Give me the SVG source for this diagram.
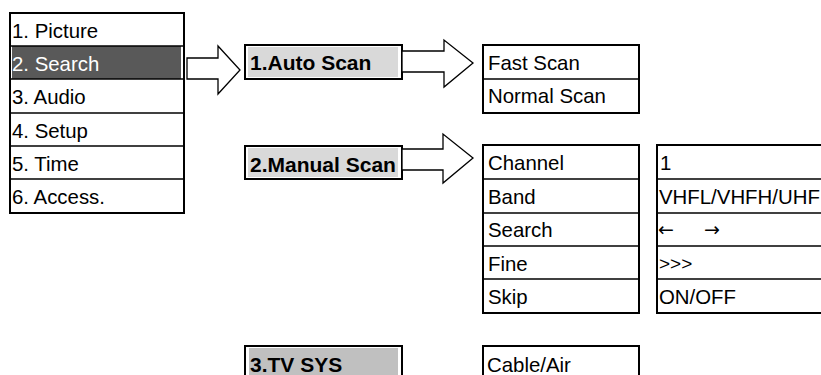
<svg xmlns="http://www.w3.org/2000/svg" width="821" height="375" viewBox="0 0 821 375">
<style>
.t{font-family:"Liberation Sans",Arial,sans-serif;font-size:20.4px;fill:#000}
.b{font-family:"Liberation Sans",Arial,sans-serif;font-size:21px;font-weight:bold;fill:#000}
.ar{font-family:"DejaVu Sans",sans-serif;font-size:19px;fill:#000}
.box{fill:#fff;stroke:#000;stroke-width:2}
.sep{stroke:#000;stroke-width:1.6}
.arr{fill:#fff;stroke:#000;stroke-width:1.3;stroke-linejoin:miter}
</style>
<rect width="821" height="375" fill="#fff"/>
<g id="main-menu">
<rect class="box" x="10" y="13" width="174" height="200"/>
<rect x="12" y="46" width="169" height="33" fill="#595959"/>
<line class="sep" x1="10" y1="46" x2="184" y2="46"/>
<line class="sep" x1="10" y1="79" x2="184" y2="79"/>
<line class="sep" x1="10" y1="113" x2="184" y2="113"/>
<line class="sep" x1="10" y1="146" x2="184" y2="146"/>
<line class="sep" x1="10" y1="179" x2="184" y2="179"/>
<text class="t" x="12" y="38">1. Picture</text>
<text class="t" x="12" y="71" style="fill:#fff">2. Search</text>
<text class="t" x="12" y="104">3. Audio</text>
<text class="t" x="12" y="138">4. Setup</text>
<text class="t" x="12" y="171">5. Time</text>
<text class="t" x="12" y="204">6. Access.</text>
</g>
<g id="auto-scan">
<rect class="box" x="245" y="45" width="157" height="34"/>
<rect x="248" y="47" width="150" height="30" fill="#d9d9d9"/>
<text class="b" x="250" y="70">1.Auto Scan</text>
</g>
<g id="manual-scan">
<rect class="box" x="245" y="146" width="157" height="33"/>
<rect x="248" y="148" width="150" height="29" fill="#d9d9d9"/>
<text class="b" x="250" y="172">2.Manual Scan</text>
</g>
<g id="tv-sys">
<rect class="box" x="245" y="346" width="157" height="40"/>
<rect x="249" y="348" width="149" height="30" fill="#c0c0c0"/>
<text class="b" x="250" y="372">3.TV SYS</text>
</g>
<g id="scan-options">
<rect class="box" x="483" y="45" width="156" height="68"/>
<line class="sep" x1="483" y1="79" x2="639" y2="79"/>
<text class="t" x="488" y="70">Fast Scan</text>
<text class="t" x="488" y="103">Normal Scan</text>
</g>
<g id="manual-items">
<rect class="box" x="483" y="145" width="156" height="168"/>
<line class="sep" x1="483" y1="179" x2="639" y2="179"/>
<line class="sep" x1="483" y1="213" x2="639" y2="213"/>
<line class="sep" x1="483" y1="246" x2="639" y2="246"/>
<line class="sep" x1="483" y1="279" x2="639" y2="279"/>
<text class="t" x="488" y="170">Channel</text>
<text class="t" x="488" y="204">Band</text>
<text class="t" x="488" y="237">Search</text>
<text class="t" x="488" y="271">Fine</text>
<text class="t" x="488" y="304">Skip</text>
</g>
<g id="manual-values">
<rect class="box" x="657" y="145" width="180" height="168"/>
<line class="sep" x1="657" y1="179" x2="837" y2="179"/>
<line class="sep" x1="657" y1="213" x2="837" y2="213"/>
<line class="sep" x1="657" y1="246" x2="837" y2="246"/>
<line class="sep" x1="657" y1="279" x2="837" y2="279"/>
<text class="t" x="660" y="170">1</text>
<text class="t" x="659" y="204">VHFL/VHFH/UHF</text>
<text class="ar" x="658" y="236">←</text>
<text class="ar" x="704" y="236">→</text>
<text class="t" x="659" y="270" style="font-size:19px">&gt;&gt;&gt;</text>
<text class="t" x="659" y="304">ON/OFF</text>
</g>
<g id="tv-sys-options">
<rect class="box" x="483" y="346" width="156" height="40"/>
<text class="t" x="487" y="372">Cable/Air</text>
</g>
<g id="connectors">
<polygon class="arr" points="187,58 218,58 218,46 240,70 218,94 218,79 187,79"/>
<polygon class="arr" points="402,51 444,51 444,40 473,63 444,87 444,72 402,72"/>
<polygon class="arr" points="402,149 443,149 443,134 473,158 443,183 443,170 402,170"/>
</g>
</svg>
